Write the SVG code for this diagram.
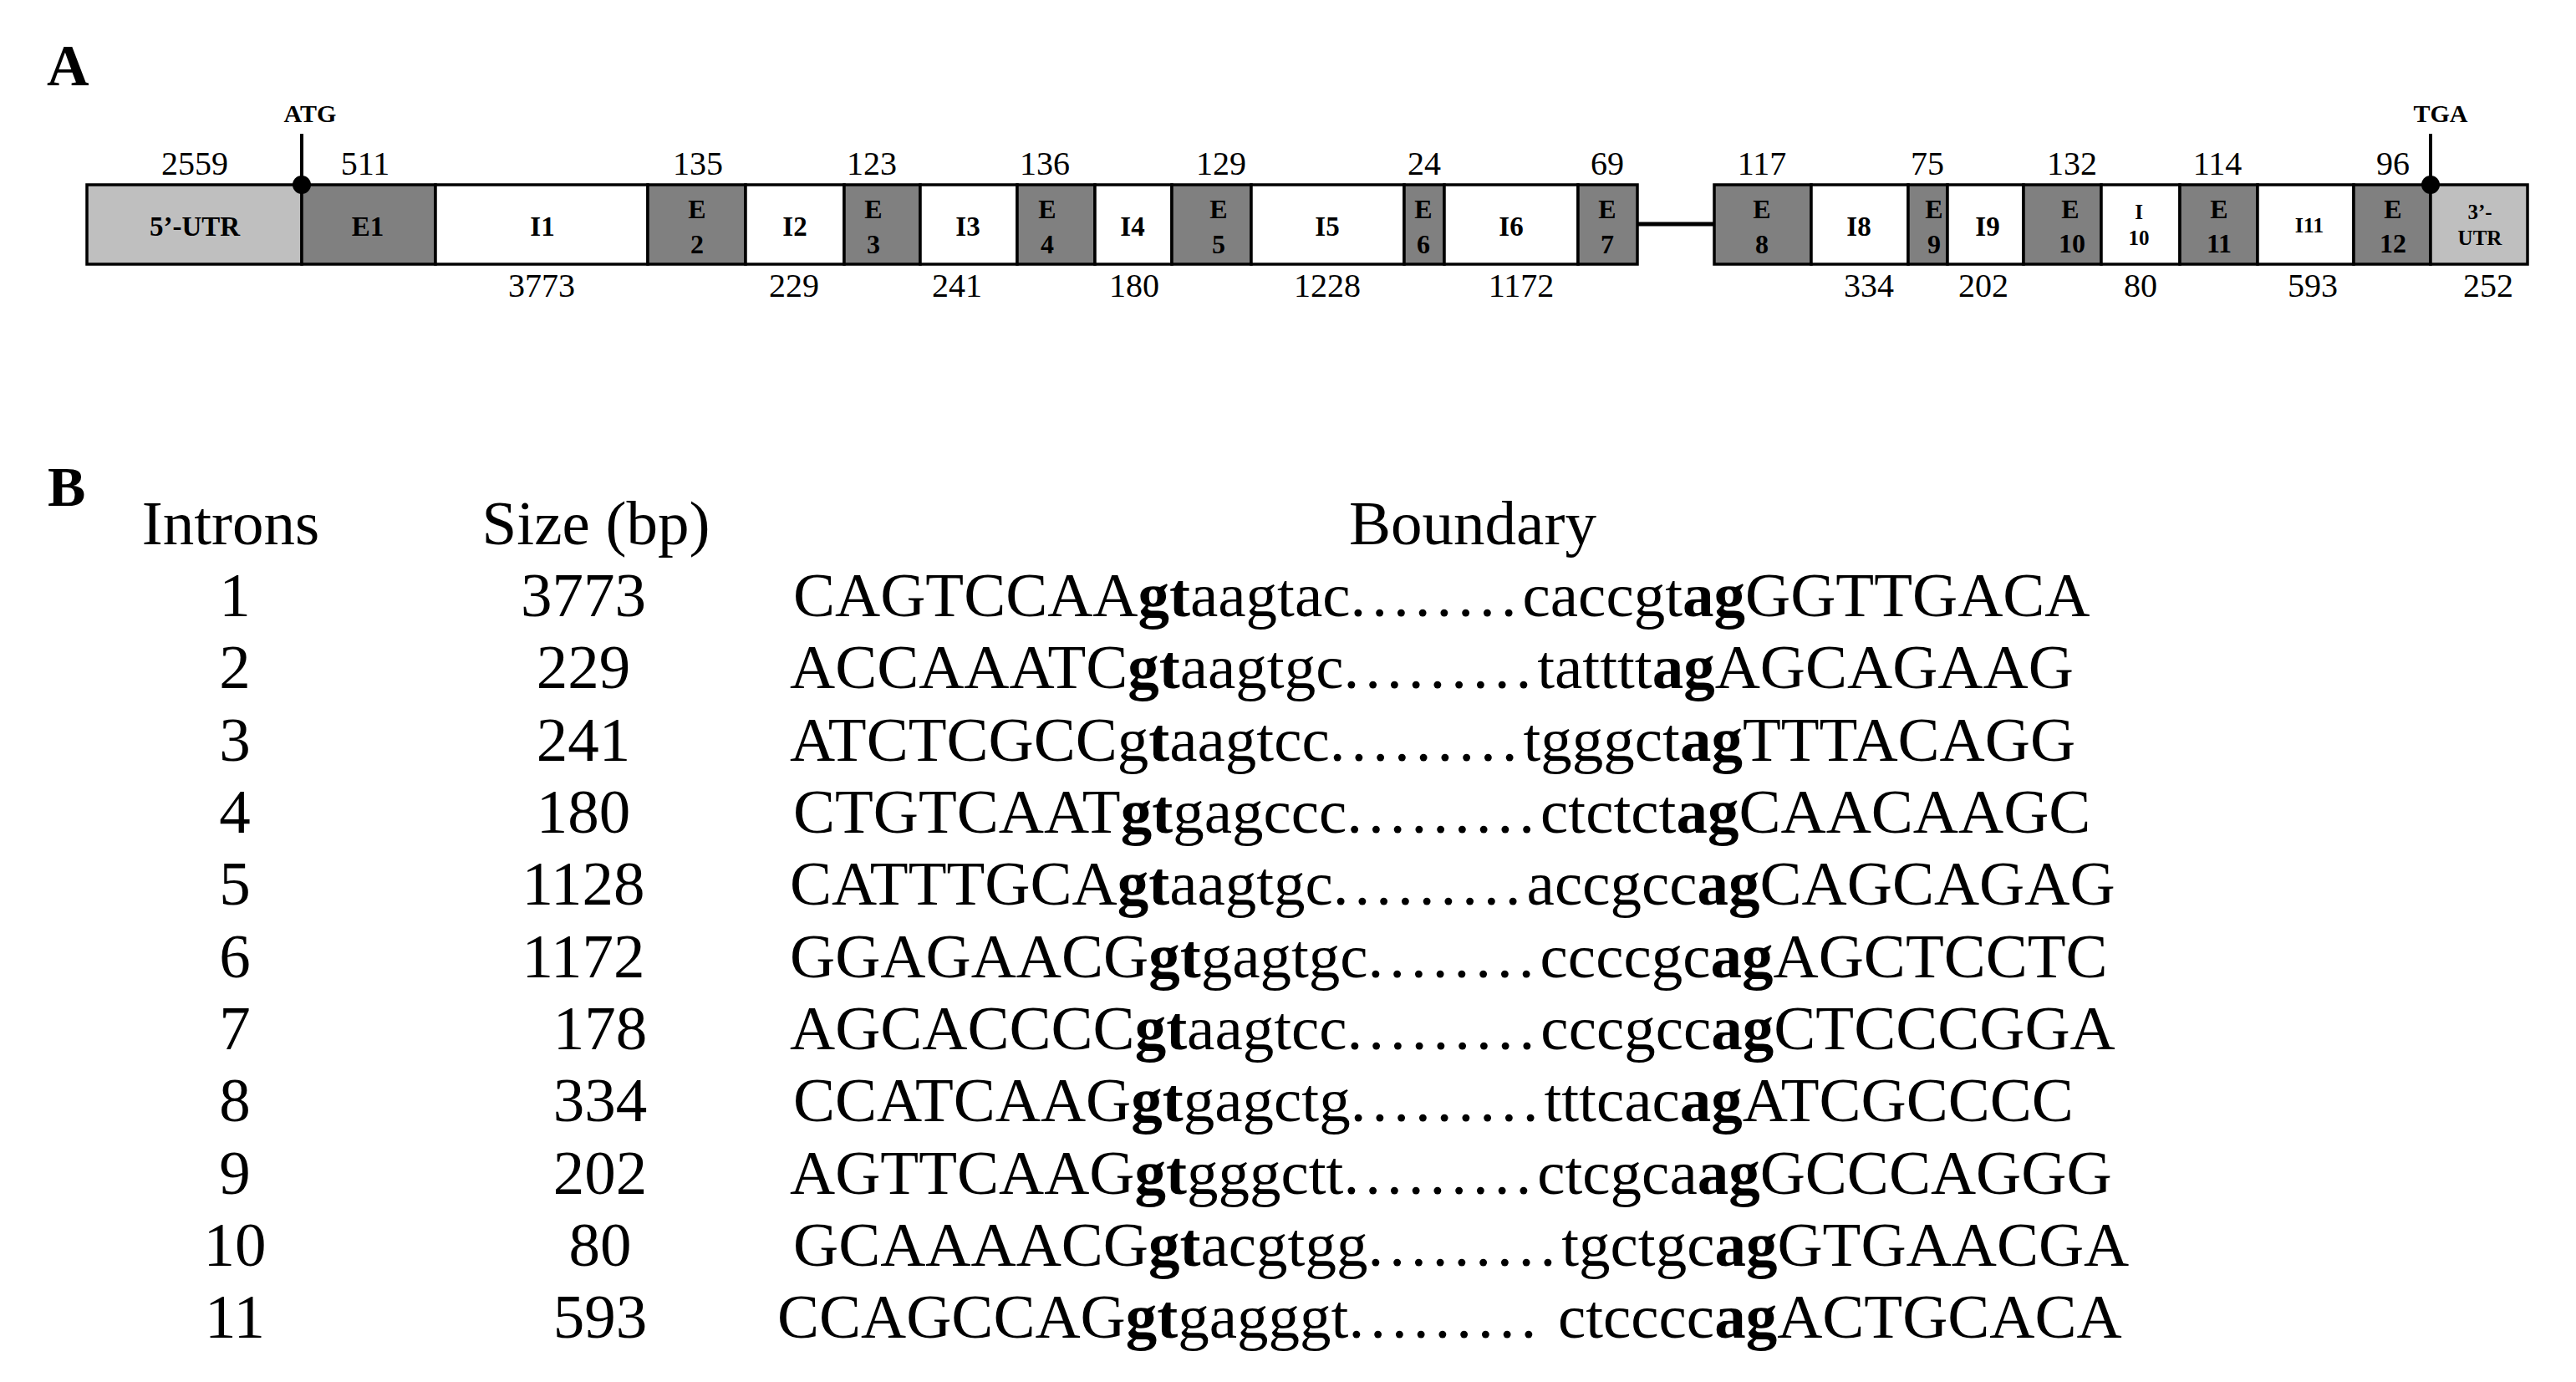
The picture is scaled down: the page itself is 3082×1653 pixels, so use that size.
<svg xmlns="http://www.w3.org/2000/svg" width="3082" height="1653" viewBox="0 0 3082 1653">
<style>
text{font-family:"Liberation Serif","Times New Roman",serif;fill:#000}
.panel{font-size:70px;font-weight:bold}
.num{font-size:40px;text-anchor:middle}
.bx{font-size:33px;font-weight:bold;text-anchor:middle}
.bxs{font-size:32px;font-weight:bold;text-anchor:middle}
.sm{font-size:25px;font-weight:bold;text-anchor:middle}
.mk{font-size:30px;font-weight:bold;text-anchor:middle}
.seg{stroke:#000;stroke-width:3.5}
.ex{fill:#808080}
.in{fill:#fff}
.utr{fill:#bfbfbf}
.tb{font-size:75px}
.c{text-anchor:middle}
.b{font-weight:bold}
.d{letter-spacing:7px}
.stem{stroke:#000;stroke-width:4}
</style>

<text class="panel" x="56" y="102">A</text>
<text class="panel" x="57" y="605" style="font-size:68px">B</text>

<!-- gene structure -->
<g id="utr5"><rect class="seg utr" x="104" y="221" width="257" height="95"/><text class="bx" x="233" y="282">5’-UTR</text><text class="num" x="233" y="209">2559</text></g>
<g id="E1"><rect class="seg ex" x="361" y="221" width="160" height="95"/><text class="bx" x="440" y="282">E1</text><text class="num" x="437" y="209">511</text></g>
<g id="I1"><rect class="seg in" x="521" y="221" width="254" height="95"/><text class="bx" x="649" y="282">I1</text><text class="num" x="648" y="355">3773</text></g>
<g id="E2"><rect class="seg ex" x="775" y="221" width="117" height="95"/><text class="bxs" x="834" y="261">E</text><text class="bxs" x="834" y="303">2</text><text class="num" x="835" y="209">135</text></g>
<g id="I2"><rect class="seg in" x="892" y="221" width="118" height="95"/><text class="bx" x="951" y="282">I2</text><text class="num" x="950" y="355">229</text></g>
<g id="E3"><rect class="seg ex" x="1010" y="221" width="91" height="95"/><text class="bxs" x="1045" y="261">E</text><text class="bxs" x="1045" y="303">3</text><text class="num" x="1043" y="209">123</text></g>
<g id="I3"><rect class="seg in" x="1101" y="221" width="116" height="95"/><text class="bx" x="1158" y="282">I3</text><text class="num" x="1145" y="355">241</text></g>
<g id="E4"><rect class="seg ex" x="1217" y="221" width="93" height="95"/><text class="bxs" x="1253" y="261">E</text><text class="bxs" x="1253" y="303">4</text><text class="num" x="1250" y="209">136</text></g>
<g id="I4"><rect class="seg in" x="1310" y="221" width="92" height="95"/><text class="bx" x="1355" y="282">I4</text><text class="num" x="1357" y="355">180</text></g>
<g id="E5"><rect class="seg ex" x="1402" y="221" width="95" height="95"/><text class="bxs" x="1458" y="261">E</text><text class="bxs" x="1458" y="303">5</text><text class="num" x="1461" y="209">129</text></g>
<g id="I5"><rect class="seg in" x="1497" y="221" width="183" height="95"/><text class="bx" x="1588" y="282">I5</text><text class="num" x="1588" y="355">1228</text></g>
<g id="E6"><rect class="seg ex" x="1680" y="221" width="48" height="95"/><text class="bxs" x="1703" y="261">E</text><text class="bxs" x="1703" y="303">6</text><text class="num" x="1704" y="209">24</text></g>
<g id="I6"><rect class="seg in" x="1728" y="221" width="160" height="95"/><text class="bx" x="1808" y="282">I6</text><text class="num" x="1820" y="355">1172</text></g>
<g id="E7"><rect class="seg ex" x="1888" y="221" width="71" height="95"/><text class="bxs" x="1923" y="261">E</text><text class="bxs" x="1923" y="303">7</text><text class="num" x="1923" y="209">69</text></g>
<g id="E8"><rect class="seg ex" x="2051" y="221" width="116" height="95"/><text class="bxs" x="2108" y="261">E</text><text class="bxs" x="2108" y="303">8</text><text class="num" x="2108" y="209">117</text></g>
<g id="I8"><rect class="seg in" x="2167" y="221" width="116" height="95"/><text class="bx" x="2224" y="282">I8</text><text class="num" x="2236" y="355">334</text></g>
<g id="E9"><rect class="seg ex" x="2283" y="221" width="47" height="95"/><text class="bxs" x="2314" y="261">E</text><text class="bxs" x="2314" y="303">9</text><text class="num" x="2306" y="209">75</text></g>
<g id="I9"><rect class="seg in" x="2330" y="221" width="91" height="95"/><text class="bx" x="2378" y="282">I9</text><text class="num" x="2373" y="355">202</text></g>
<g id="E10"><rect class="seg ex" x="2421" y="221" width="93" height="95"/><text class="bxs" x="2477" y="261">E</text><text class="bxs" x="2479" y="302">10</text><text class="num" x="2479" y="209">132</text></g>
<g id="I10"><rect class="seg in" x="2514" y="221" width="94" height="95"/><text class="sm" x="2559" y="262">I</text><text class="sm" x="2559" y="293">10</text><text class="num" x="2561" y="355">80</text></g>
<g id="E11"><rect class="seg ex" x="2608" y="221" width="93" height="95"/><text class="bxs" x="2655" y="261">E</text><text class="bxs" x="2655" y="302">11</text><text class="num" x="2653" y="209">114</text></g>
<g id="I11"><rect class="seg in" x="2701" y="221" width="115" height="95"/><text class="sm" x="2763" y="278" style="font-size:26px">I11</text><text class="num" x="2767" y="355">593</text></g>
<g id="E12"><rect class="seg ex" x="2816" y="221" width="92" height="95"/><text class="bxs" x="2863" y="261">E</text><text class="bxs" x="2863" y="302">12</text><text class="num" x="2863" y="209">96</text></g>
<g id="utr3"><rect class="seg utr" x="2908" y="221" width="116" height="95"/><text class="sm" x="2967" y="262">3’-</text><text class="sm" x="2967" y="293">UTR</text><text class="num" x="2977" y="355">252</text></g>

<g id="ATG"><line class="stem" x1="361" y1="160" x2="361" y2="221"/><circle cx="361" cy="221" r="11" fill="#000"/><text class="mk" x="371" y="146">ATG</text></g>
<g id="TGA"><line class="stem" x1="2908" y1="160" x2="2908" y2="221"/><circle cx="2908" cy="221" r="11" fill="#000"/><text class="mk" x="2920" y="146">TGA</text></g>

<g id="connectors"><line x1="1959" y1="268" x2="2051" y2="268" stroke="#000" stroke-width="5"/></g>

<!-- table -->
<g id="table" class="tb">
<text class="tb c" x="276" y="651">Introns</text>
<text class="tb c" x="713" y="651">Size (bp)</text>
<text class="tb c" x="1762" y="651">Boundary</text>

<text class="tb c" x="281" y="737">1</text><text class="tb c" x="698" y="737">3773</text>
<text class="tb" x="949" y="737">CAGTCCAA<tspan class="b">gt</tspan>aagtac<tspan class="d">........</tspan>caccgt<tspan class="b">ag</tspan>GGTTGACA</text>

<text class="tb c" x="281" y="823">2</text><text class="tb c" x="698" y="823">229</text>
<text class="tb" x="945" y="823">ACCAAATC<tspan class="b">gt</tspan>aagtgc<tspan class="d">.........</tspan>tatttt<tspan class="b">ag</tspan>AGCAGAAG</text>

<text class="tb c" x="281" y="910">3</text><text class="tb c" x="698" y="910">241</text>
<text class="tb" x="945" y="910">ATCTCGCCg<tspan class="b">t</tspan>aagtcc<tspan class="d">.........</tspan>tgggct<tspan class="b">ag</tspan>TTTACAGG</text>

<text class="tb c" x="281" y="996">4</text><text class="tb c" x="698" y="996">180</text>
<text class="tb" x="949" y="996">CTGTCAAT<tspan class="b">gt</tspan>gagccc<tspan class="d">.........</tspan>ctctct<tspan class="b">ag</tspan>CAACAAGC</text>

<text class="tb c" x="281" y="1082">5</text><text class="tb c" x="698" y="1082">1128</text>
<text class="tb" x="945" y="1082">CATTTGCA<tspan class="b">gt</tspan>aagtgc<tspan class="d">.........</tspan>accgcc<tspan class="b">ag</tspan>CAGCAGAG</text>

<text class="tb c" x="281" y="1169">6</text><text class="tb c" x="698" y="1169">1172</text>
<text class="tb" x="945" y="1169">GGAGAACG<tspan class="b">gt</tspan>gagtgc<tspan class="d">........</tspan>ccccgc<tspan class="b">ag</tspan>AGCTCCTC</text>

<text class="tb c" x="281" y="1255">7</text><text class="tb c" x="718" y="1255">178</text>
<text class="tb" x="945" y="1255">AGCACCCC<tspan class="b">gt</tspan>aagtcc<tspan class="d">.........</tspan>cccgcc<tspan class="b">ag</tspan>CTCCCGGA</text>

<text class="tb c" x="281" y="1341">8</text><text class="tb c" x="718" y="1341">334</text>
<text class="tb" x="949" y="1341">CCATCAAG<tspan class="b">gt</tspan>gagctg<tspan class="d">.........</tspan>tttcac<tspan class="b">ag</tspan>ATCGCCCC</text>

<text class="tb c" x="281" y="1428">9</text><text class="tb c" x="718" y="1428">202</text>
<text class="tb" x="945" y="1428">AGTTCAAG<tspan class="b">gt</tspan>gggctt<tspan class="d">.........</tspan>ctcgca<tspan class="b">ag</tspan>GCCCAGGG</text>

<text class="tb c" x="281" y="1514">10</text><text class="tb c" x="718" y="1514">80</text>
<text class="tb" x="949" y="1514">GCAAAACG<tspan class="b">gt</tspan>acgtgg<tspan class="d">.........</tspan>tgctgc<tspan class="b">ag</tspan>GTGAACGA</text>

<text class="tb c" x="281" y="1600">11</text><text class="tb c" x="718" y="1600">593</text>
<text class="tb" x="930" y="1600">CCAGCCAG<tspan class="b">gt</tspan>gagggt<tspan class="d">.........</tspan> ctcccc<tspan class="b">ag</tspan>ACTGCACA</text>
</g>
</svg>
